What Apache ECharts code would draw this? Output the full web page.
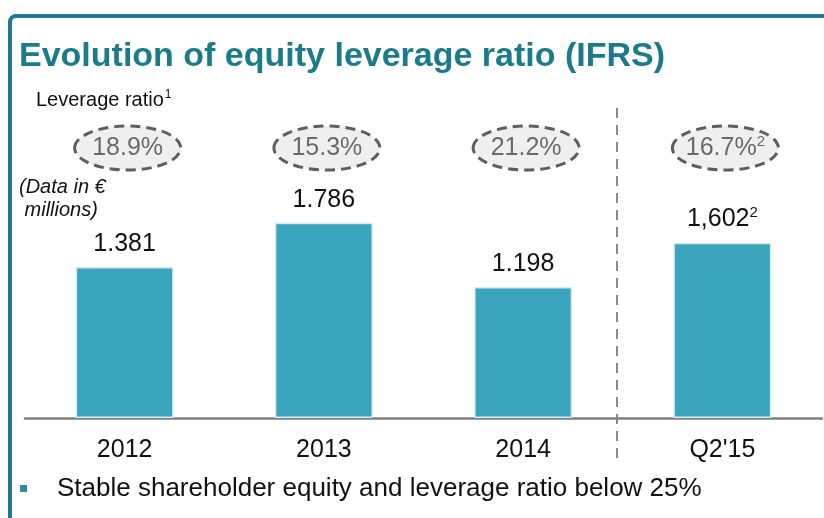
<!DOCTYPE html>
<html><head><meta charset="utf-8">
<script src="https://cdn.jsdelivr.net/npm/echarts@6/dist/echarts.min.js"></script>
<style>html,body{margin:0;padding:0;background:#fff}#c{width:824px;height:518px}</style>
</head><body><div id="c"></div>
<script>
const categories = ['2012', '2013', '2014', "Q2'15"];
const equityValues = [1381, 1786, 1198, 1602];
const equityLabels = ['1.381', '1.786', '1.198', '1,602'];
const equityNotes = ['', '', '', '2'];
const leverageRatios = ['18.9%', '15.3%', '21.2%', '16.7%'];
const leverageNotes = ['', '', '', '2'];

const FONT = '"Liberation Sans", Arial, sans-serif';
const TEAL = '#1b7b8a';

const chart = echarts.init(document.getElementById('c'), null, {renderer: 'canvas'});

const option = {
  animation: false,
  backgroundColor: '#fff',
  grid: {left: 25, right: 2, top: 90, bottom: 100},
  xAxis: {
    type: 'category',
    data: categories,
    axisLine: {lineStyle: {color: '#808080', width: 2.5}},
    axisTick: {show: false},
    axisLabel: {fontFamily: FONT, fontSize: 25, color: '#111', margin: 20}
  },
  yAxis: {type: 'value', min: 0, max: 3000, show: false},
  series: [
    {
      type: 'bar',
      data: equityValues,
      barWidth: 98,
      itemStyle: {color: '#3aa4bd', borderColor: '#d3ebf1', borderWidth: 1.5},
      label: {
        show: true,
        position: 'top',
        distance: 10,
        formatter: p => '{v|' + equityLabels[p.dataIndex] + '}' + (equityNotes[p.dataIndex] ? '{s|' + equityNotes[p.dataIndex] + '}' : ''),
        rich: {
          v: {fontFamily: FONT, fontSize: 25, color: '#111'},
          s: {fontFamily: FONT, fontSize: 15, color: '#111', verticalAlign: 'top', padding: [0, 0, 12, 0]}
        }
      }
    },
    {
      type: 'custom',
      data: leverageRatios.map((r, i) => [i, parseFloat(r)]),
      clip: false,
      renderItem: function (params, api) {
        const i = params.dataIndex;
        const x = api.coord([api.value(0), 0])[0] + 3;
        const cy = 148;
        const txt = '{v|' + leverageRatios[i] + '}' + (leverageNotes[i] ? '{s|' + leverageNotes[i] + '}' : '');
        return {
          type: 'group',
          children: [
            {type: 'ellipse', shape: {cx: x, cy: cy, rx: 53, ry: 22},
             style: {fill: '#efefef', stroke: '#5e5e5e', lineWidth: 3, lineDash: [10, 6]}},
            {type: 'text', style: {x: x, y: cy, text: txt, align: 'center', verticalAlign: 'middle',
              rich: {
                v: {fontFamily: FONT, fontSize: 25, fill: '#6a6a6a'},
                s: {fontFamily: FONT, fontSize: 15, fill: '#6a6a6a', padding: [0, 0, 12, 0]}
              }}}
          ]
        };
      }
    }
  ],
  graphic: [
    {type: 'rect', shape: {x: 10, y: 16, width: 900, height: 600, r: 6},
     style: {fill: 'none', stroke: TEAL, lineWidth: 4}, silent: true},
    {type: 'text', x: 19, y: 57, style: {text: 'Evolution of equity leverage ratio (IFRS)', font: 'bold 34px ' + FONT, fill: TEAL, verticalAlign: 'middle'}},
    {type: 'text', x: 36, y: 100, style: {
      text: '{v|Leverage ratio}{s|1}', verticalAlign: 'middle',
      rich: {v: {fontFamily: FONT, fontSize: 20, fill: '#111'}, s: {fontFamily: FONT, fontSize: 12, fill: '#111', padding: [0, 0, 10, 1]}}}},
    {type: 'text', x: 19, y: 176, style: {text: '(Data in €\n millions)', font: 'italic 20px ' + FONT, fill: '#111', lineHeight: 23, verticalAlign: 'top'}},
    {type: 'line', shape: {x1: 617, y1: 108, x2: 617, y2: 465},
     style: {stroke: '#8a8a8a', lineWidth: 2, lineDash: [10, 7]}},
    {type: 'rect', shape: {x: 20, y: 485, width: 7, height: 7}, style: {fill: '#2a8d9c'}},
    {type: 'text', x: 57, y: 489, style: {text: 'Stable shareholder equity and leverage ratio below 25%', font: '26px ' + FONT, fill: '#111', verticalAlign: 'middle'}}
  ]
};
chart.setOption(option);
</script>
</body></html>
